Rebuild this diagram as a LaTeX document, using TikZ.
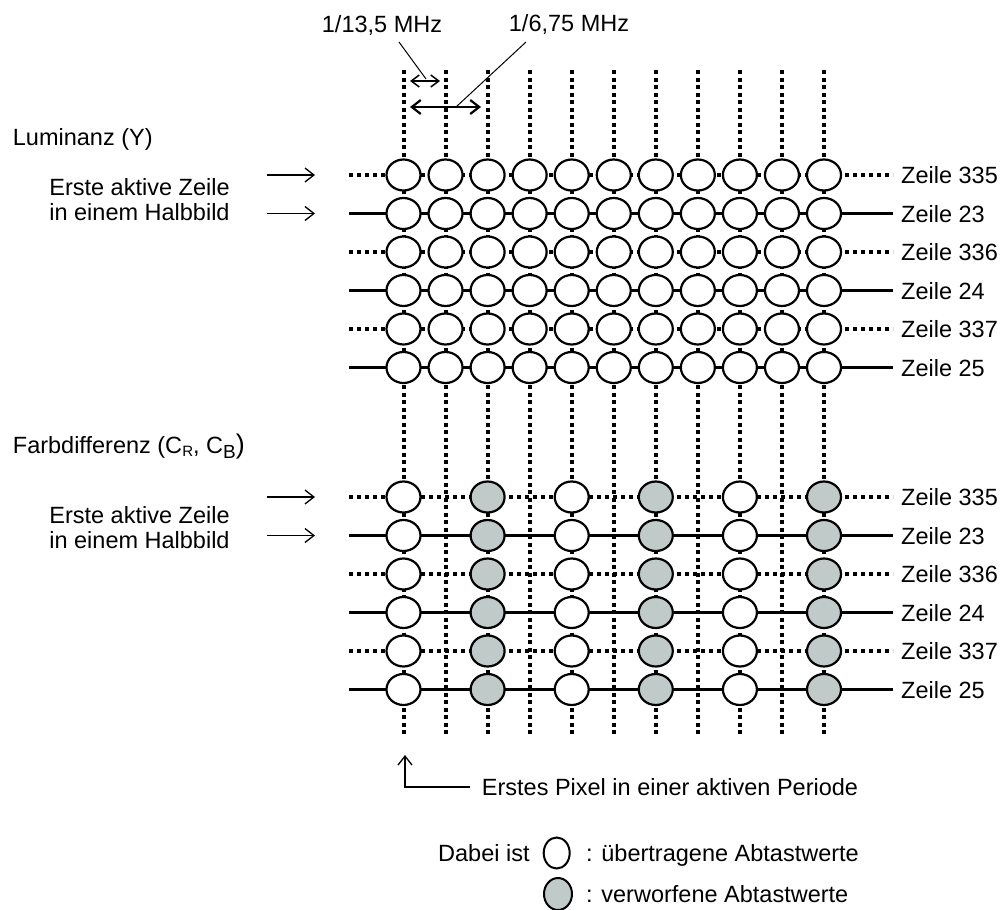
\documentclass[tikz,border=0pt]{standalone}
\usepackage{fontspec}
\setmainfont{Liberation Sans}
\usetikzlibrary{shapes.geometric,arrows.meta}
\definecolor{discard}{RGB}{192,202,200}
\tikzset{
  smp/.style={ellipse,draw,line width=2.2pt,fill=white,minimum width=34pt,minimum height=31pt,inner sep=0pt},
  smpgrey/.style={smp,fill=discard},
  legw/.style={ellipse,draw,line width=2pt,fill=white,minimum width=26pt,minimum height=31pt,inner sep=0pt},
  legg/.style={legw,fill=discard,minimum width=28pt,minimum height=32pt},
  vdot/.style={line width=4pt,dash pattern=on 4pt off 3.5pt},
  hdot/.style={line width=3.5pt,dash pattern=on 4pt off 4pt},
  hsolid/.style={line width=3.6pt},
  hthin/.style={line width=2.6pt},
  lbl/.style={font=\fontsize{23.5}{28}\selectfont,inner sep=0pt},
  ptr/.style={line width=1.3pt,-{Straight Barb[length=9pt,width=14pt]}},
  dimsmall/.style={line width=1.5pt,{Straight Barb[length=8pt,width=12pt]}-{Straight Barb[length=8pt,width=12pt]}},
  dimbig/.style={line width=2.2pt,{Straight Barb[length=9pt,width=14pt]}-{Straight Barb[length=9pt,width=14pt]}},
  leader/.style={line width=1pt},
}
\begin{document}
\begin{tikzpicture}[x=1pt,y=-1pt]
\useasboundingbox (0,0) rectangle (1005,910);

% vertical sampling lines
\foreach \c in {0,...,10} {
  \coordinate (vt\c) at (403.5+42.05*\c,70);
  \coordinate (vb\c) at (403.5+42.05*\c,736);
  \draw[vdot] (vt\c) -- (vb\c);
}

% top labels and dimension arrows
\node[lbl,anchor=base] (t13) at (382,32.5) {1/13,5 MHz};
\node[lbl,anchor=base] (t675) at (569,31.5) {1/6,75 MHz};
\coordinate (sa) at (410,81);
\coordinate (sb) at (440,81);
\coordinate (ba) at (410,107);
\coordinate (bb) at (481,107);
\draw[dimsmall] (sa) -- (sb);
\draw[dimbig] (ba) -- (bb);
\coordinate (l13a) at (399,42);
\coordinate (l13b) at (426,79);
\coordinate (l675a) at (526,42);
\coordinate (l675b) at (456,107);
\draw[leader] (l13a) -- (l13b);
\draw[leader] (l675a) -- (l675b);

% Luminance rows
\foreach \r/\y/\s/\t in {1/175/hdot/335,2/213.5/hsolid/23,3/252/hdot/336,4/290.5/hsolid/24,5/329/hdot/337,6/367.5/hsolid/25} {
  \coordinate (lhl\r) at (349,\y);
  \coordinate (lhr\r) at (893,\y);
  \draw[\s] (lhl\r) -- (lhr\r);
  \node[lbl,anchor=base west] (lz\r) at (901,\y+8.5) {Zeile \t};
  \foreach \c in {0,...,10} {
    \node[smp] (L\r-\c) at (403.5+42.05*\c,\y) {};
  }
}

% Chroma rows
\foreach \r/\y/\s/\t in {1/497/hdot/335,2/535.5/hsolid/23,3/574/hdot/336,4/612.5/hthin/24,5/651/hdot/337,6/689.5/hsolid/25} {
  \coordinate (chl\r) at (349,\y);
  \coordinate (chr\r) at (893,\y);
  \draw[\s] (chl\r) -- (chr\r);
  \node[lbl,anchor=base west] (cz\r) at (901,\y+8.5) {Zeile \t};
  \foreach \c/\st in {0/smp,2/smpgrey,4/smp,6/smpgrey,8/smp,10/smpgrey} {
    \node[\st] (C\r-\c) at (403.5+42.05*\c,\y) {};
  }
}

% Left labels, luminance
\node[lbl,anchor=base west] (lum) at (12.7,145) {Luminanz (Y)};
\node[lbl,anchor=base] (le1) at (139.5,195) {Erste aktive Zeile};
\node[lbl,anchor=base] (le2) at (139.5,220) {in einem Halbbild};
\coordinate (la1) at (267,175);
\coordinate (lb1) at (315,175);
\coordinate (la2) at (267,213.5);
\coordinate (lb2) at (315,213.5);
\draw[ptr] (la1) -- (lb1);
\draw[ptr] (la2) -- (lb2);

% Left labels, chroma
\node[lbl,anchor=base west] (farb) at (12.7,453.5) {Farbdifferenz (C\raisebox{-0.12em}{\fontsize{15}{15}\selectfont R}, C\raisebox{-0.22em}{\fontsize{19}{19}\selectfont B}{\fontsize{27}{27}\selectfont )}};
\node[lbl,anchor=base] (ce1) at (139.5,523) {Erste aktive Zeile};
\node[lbl,anchor=base] (ce2) at (139.5,548) {in einem Halbbild};
\coordinate (ca1) at (267,497);
\coordinate (cb1) at (315,497);
\coordinate (ca2) at (267,535.5);
\coordinate (cb2) at (315,535.5);
\draw[ptr] (ca1) -- (cb1);
\draw[ptr] (ca2) -- (cb2);

% first pixel marker
\node[lbl,anchor=base west] (first) at (481.7,795.5) {Erstes Pixel in einer aktiven Periode};
\coordinate (fe) at (470,787);
\coordinate (fc) at (405,787);
\coordinate (ft) at (405,755);
\draw[ptr] (fe) -- (fc) -- (ft);

% legend
\node[lbl,anchor=base west] (dabei) at (438,861.5) {Dabei ist};
\node[legw] (legwhite) at (556.7,853) {};
\node[lbl,anchor=base west] (legt1) at (586,861.5) {: übertragene Abtastwerte};
\node[legg] (leggrey) at (558,894) {};
\node[lbl,anchor=base west] (legt2) at (586,902.5) {: verworfene Abtastwerte};
\end{tikzpicture}
\end{document}
